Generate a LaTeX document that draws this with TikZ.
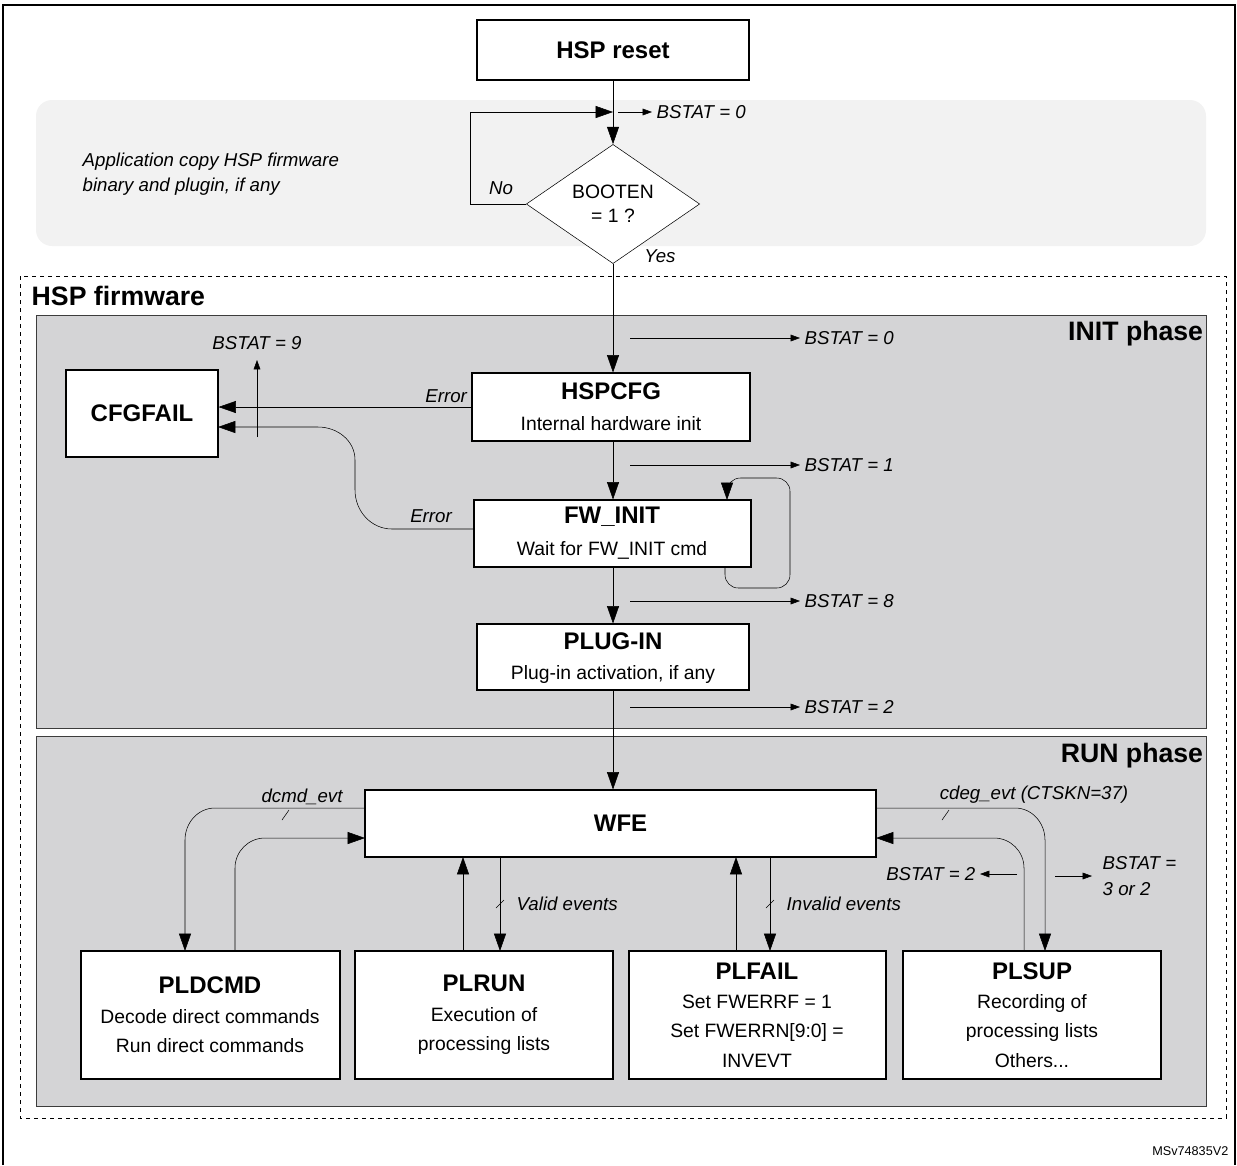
\documentclass[tikz,border=0pt]{standalone}
\usepackage{fontspec}
\setmainfont{Liberation Sans}
\usetikzlibrary{arrows.meta,shapes.geometric,positioning}
\definecolor{hspgrey}{RGB}{212,212,214}
\definecolor{hsplight}{RGB}{242,242,242}
\definecolor{hspframe}{RGB}{60,60,60}
\tikzset{
  arrow/.style = {-{Triangle[length=13pt,width=9pt]}, thin},
  sarrow/.style = {-{Triangle[length=7pt,width=5pt]}, thin},
  block/.style = {rectangle, draw, fill=white, thick, inner sep=0pt, align=center},
  title/.style = {font=\fontsize{18}{20}\selectfont\bfseries},
  txt/.style = {font=\fontsize{14.5}{22}\selectfont},
  lbl/.style = {font=\fontsize{14}{19}\selectfont\itshape},
  phase/.style = {draw=hspframe, fill=hspgrey},
  tick/.style = {thin}
}
\newcommand{\hspbox}[5]{% name, x1, y1, x2, y2
  \node[block, minimum width={(#4-#2)*0.75pt}, minimum height={(#5-#3)*0.75pt}] (#1) at ({(#2+#4)/2},{(#3+#5)/2}) {};}
\begin{document}
\begin{tikzpicture}[x=0.75pt, y=-0.75pt]
    \useasboundingbox (0,0) rectangle (1237,1165);
    \draw[thick] (3,1165) -- (3,5) -- (1235,5) -- (1235,1165);

    % Application area
    \fill[hsplight, rounded corners=12pt] (36,100) rectangle (1206,246);
    \node[lbl, anchor=west, align=left] (app) at (78,174) {Application copy HSP firmware\\binary and plugin, if any};

    % HSP firmware frame
    \draw[dashed] (20,276) rectangle (1226,1118);
    \node[anchor=west, font=\fontsize{20}{22}\selectfont\bfseries] (fw) at (27,296) {HSP firmware};
    \draw[phase] (36,315) rectangle (1206,728);
    \draw[phase] (36,736) rectangle (1206,1106);
    \node[anchor=north east, font=\fontsize{20}{22}\selectfont\bfseries, inner sep=2pt] (init) at (1206,318) {INIT phase};
    \node[anchor=north east, font=\fontsize{20}{22}\selectfont\bfseries, inner sep=2pt] (run) at (1206,740) {RUN phase};

    % Boot
    \hspbox{reset}{477}{20}{749}{80}
    \node[title] at (reset) {HSP reset};
    \node[diamond, draw, fill=white, inner sep=0pt, minimum width=130pt, minimum height=78pt, align=center,
      font=\fontsize{14.5}{18}\selectfont] (booten) at (613,204) {BOOTEN\\= 1 ?};
    \coordinate (join) at (613,112);
    \draw (reset) -- (join);
    \draw[arrow] (join) -- (booten.north);
    \draw[arrow] (booten.west) -- (470,204) -- (470,112) -- (join);
    \coordinate (b0) at (652,112);
    \draw[sarrow] (618,112) -- (b0) node[right, lbl] {BSTAT = 0};
    \node[lbl] at (501,188) {No};
    \node[lbl] at (660,256) {Yes};

    % INIT phase
    \hspbox{hspcfg}{472}{373}{750}{441}
    \node[title] at (611,391) {HSPCFG};
    \node[txt] at (611,424) {Internal hardware init};
    \hspbox{cfgfail}{66}{370}{218}{457}
    \node[title] at (cfgfail) {CFGFAIL};
    \hspbox{fwinit}{474}{500}{751}{567}
    \node[title] at (612,517) {FW\_INIT};
    \node[txt] at (612,550) {Wait for FW\_INIT cmd};
    \hspbox{plugin}{477}{624}{749}{690}
    \node[title] at (613,641) {PLUG-IN};
    \node[txt] at (613,674) {Plug-in activation, if any};

    \draw[arrow] (booten.south) -- (hspcfg.north -| booten.south);
    \draw[arrow] (hspcfg.south -| 613,0) -- (fwinit.north -| 613,0);
    \draw[arrow] (fwinit.south -| 613,0) -- (plugin.north -| 613,0);
    \foreach \y/\v in {338/0,465/1,601/8,707/2}
      \draw[sarrow] (630,\y) -- (800,\y) node[right, lbl] {BSTAT = \v};

    \draw[arrow] (hspcfg.west) -- (cfgfail.east |- hspcfg.west) node[pos=0.1, above, lbl] {Error};
    \draw[arrow] (474,529) -- (392,529) to[out=180, in=-90] (355,490) -- (355,460)
      to[out=90, in=0] (318,427) -- (218,427);
    \node[lbl] at (431,516) {Error};
    \draw[sarrow] (257,437) -- (257,360) node[above=4pt, lbl] {BSTAT = 9};
    \draw[arrow, rounded corners=10pt] (725,567) -- (725,588) -- (790,588) -- (790,478) -- (727,478) -- (727,500);

    % RUN phase
    \hspbox{wfe}{365}{790}{876}{857}
    \node[title] at (wfe) {WFE};
    \draw[arrow] (plugin.south -| 613,0) -- (wfe.north -| 613,0);

    \hspbox{pldcmd}{81}{951}{340}{1079}
    \node[txt, align=center] at (210,1015) {{\fontsize{18}{20}\selectfont\bfseries PLDCMD}\\Decode direct commands\\Run direct commands};
    \hspbox{plrun}{355}{951}{613}{1079}
    \node[txt, align=center] at (484,1015) {{\fontsize{18}{20}\selectfont\bfseries PLRUN}\\Execution of\\processing lists};
    \hspbox{plfail}{629}{951}{886}{1079}
    \node[txt, align=center] at (757,1015) {{\fontsize{18}{20}\selectfont\bfseries PLFAIL}\\Set FWERRF = 1\\Set FWERRN[9:0] =\\INVEVT};
    \hspbox{plsup}{903}{951}{1161}{1079}
    \node[txt, align=center] at (1032,1015) {{\fontsize{18}{20}\selectfont\bfseries PLSUP}\\Recording of\\processing lists\\Others...};

    \draw[arrow] (365,808) -- (215,808) to[out=180, in=90] (185,840) -- (185,951);
    \draw[arrow] (235,951) -- (235,868) to[out=90, in=180] (265,838) -- (365,838);
    \draw[tick] (282,820) -- (289,810);
    \node[lbl] at (302,797) {dcmd\_evt};
    \draw[arrow] (876,808) -- (1015,808) to[out=0, in=90] (1045,840) -- (1045,951);
    \draw[arrow] (1024,951) -- (1024,868) to[out=90, in=0] (994,838) -- (876,838);
    \draw[tick] (942,820) -- (949,810);
    \node[lbl] at (1034,795) {cdeg\_evt (CTSKN=37)};

    \draw[arrow] (463,951) -- (463,857);
    \draw[arrow] (500,857) -- (500,951);
    \draw[tick] (496,908) -- (504,900);
    \node[lbl, anchor=west] at (512,904) {Valid events};
    \draw[arrow] (736,951) -- (736,857);
    \draw[arrow] (770,857) -- (770,951);
    \draw[tick] (766,908) -- (774,900);
    \node[lbl, anchor=west] at (782,904) {Invalid events};

    \draw[sarrow] (1017,874) -- (980,874) node[left, lbl] {BSTAT = 2};
    \draw[sarrow] (1055,876) -- (1092,876);
    \node[lbl, anchor=west, align=left] at (1098,876) {BSTAT =\\3 or 2};

    \node[font=\fontsize{9.5}{10}\selectfont, anchor=east] at (1233,1151) {MSv74835V2};
\end{tikzpicture}
\end{document}
